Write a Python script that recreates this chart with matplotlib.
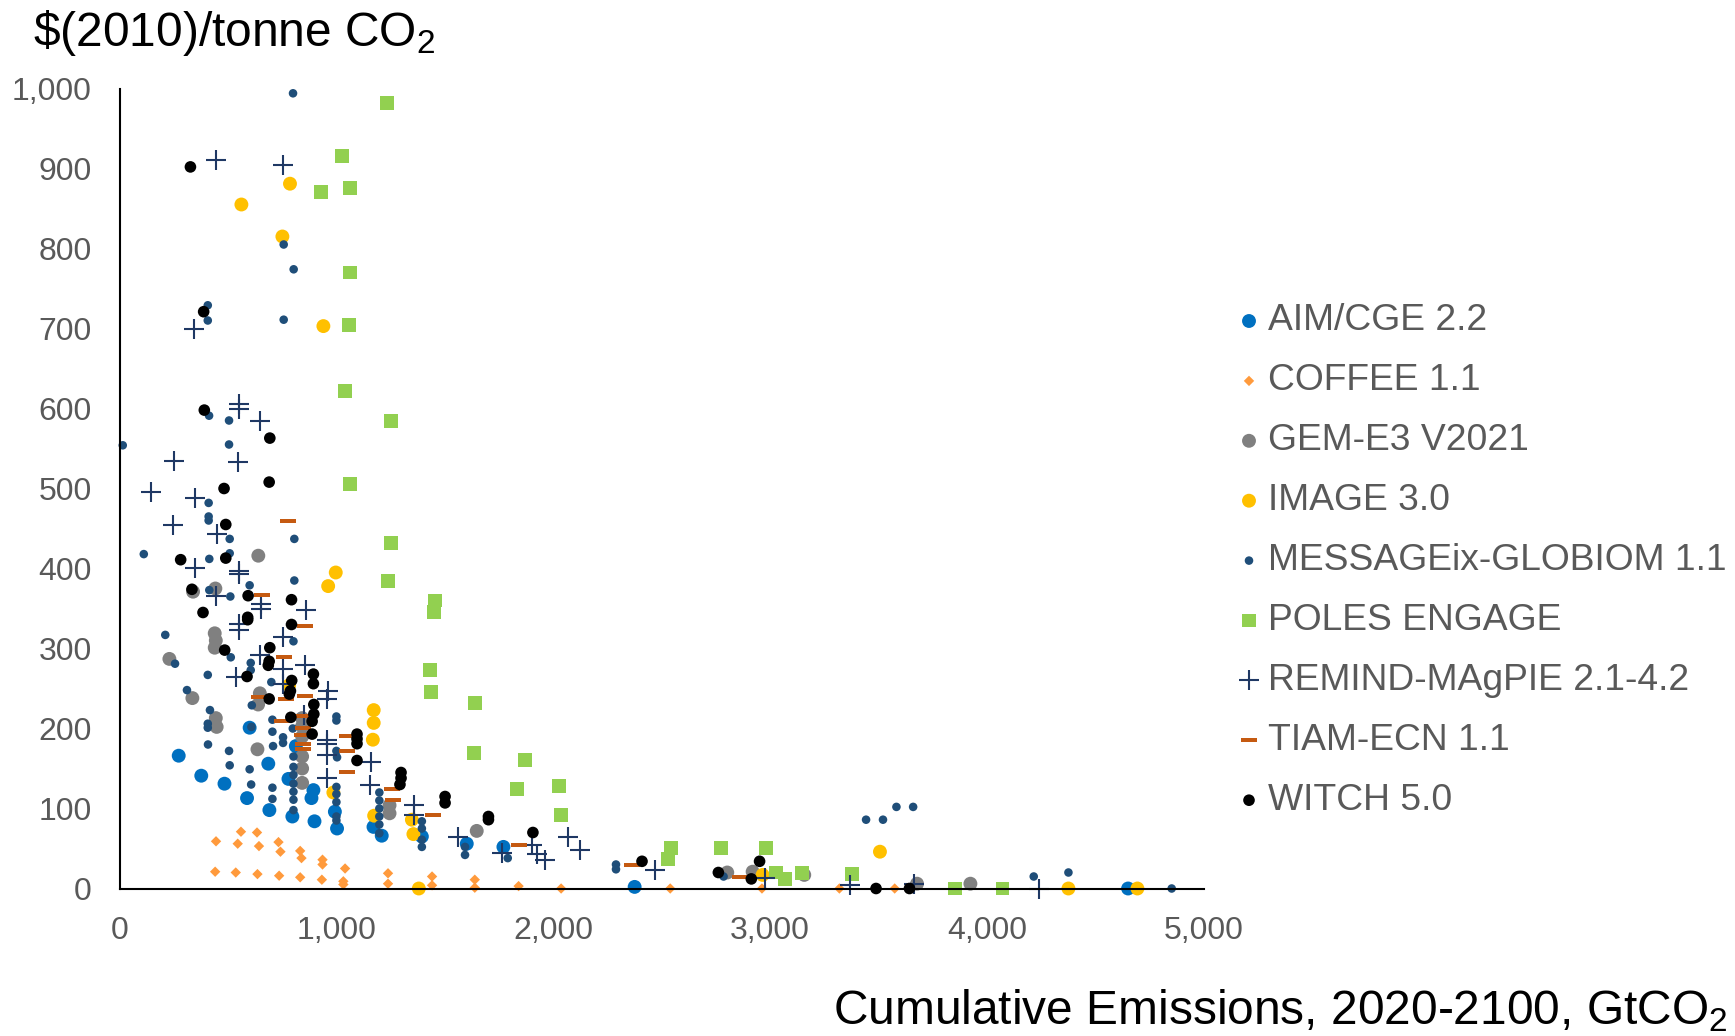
import matplotlib.pyplot as plt

plt.rcParams['font.family'] = ['Liberation Sans', 'DejaVu Sans']
plt.rcParams['mathtext.fontset'] = 'custom'
plt.rcParams['mathtext.rm'] = 'Liberation Sans'
plt.rcParams['mathtext.it'] = 'Liberation Sans'

# Carbon price vs cumulative emissions, one list pair per model
aim_x = [273, 377, 484, 588, 600, 686, 691, 779, 797, 813, 894, 885, 899, 993, 1003,
         1171, 1209, 1394, 1601, 1770, 2375, 4650]
aim_y = [166, 141, 131, 113, 201, 156, 98, 137, 90, 178, 123, 113, 84, 96, 75,
         77, 66, 65, 56, 52, 2, 0]

coffee_x = [445, 560, 634, 545, 643, 733, 742, 833, 839, 936, 936, 1040, 441, 536, 636,
            736, 833, 933, 1032, 1032, 1238, 1238, 1441, 1441, 1638, 1638, 1840, 2036,
            2539, 2962, 3319, 3574]
coffee_y = [59, 71, 70, 56, 53, 58, 46, 47, 38, 36, 30, 25, 21, 20, 18,
            16, 14, 11, 9, 5, 19, 6, 15, 4, 11, 1, 3, 0,
            0, 0, 0, 0]

gem_x = [640, 339, 442, 439, 444, 439, 230, 336, 647, 639, 444, 448, 842, 842, 842,
         842, 842, 842, 636, 1245, 1245, 1647, 2802, 2919, 3157, 3677, 3923]
gem_y = [416, 371, 375, 319, 310, 301, 287, 238, 244, 230, 213, 202, 213, 203, 190,
         165, 150, 132, 174, 104, 94, 72, 20, 21, 17, 6, 6]

image_x = [786, 562, 751, 940, 997, 962, 1172, 1172, 1168, 782, 986, 1174, 1348, 1355,
           1380, 2965, 3506, 4375, 4693]
image_y = [881, 855, 815, 703, 395, 378, 223, 207, 186, 254, 120, 91, 86, 68,
           0, 17, 46, 0, 0]

message_x = [800, 757, 803, 407, 407, 757, 413, 505, 15, 505, 411, 411, 411, 508, 806,
             806, 112, 414, 508, 600, 414, 511, 211, 802, 256, 513, 605, 605, 407, 700,
             311, 610, 417, 407, 407, 705, 1000, 1000, 608, 705, 799, 754, 754, 408, 505,
             708, 802, 802, 802, 802, 802, 802, 802, 1000, 1003, 508, 600, 607, 705, 705,
             1000, 1000, 1000, 1000, 1000, 1198, 1198, 1198, 1198, 1198, 1198, 1394, 1394,
             1394, 1394, 1593, 1593, 1790, 2289, 2289, 2785, 3442, 3520, 3582, 3659, 4215,
             4375, 4851]
message_y = [994, 805, 774, 729, 710, 711, 591, 585, 554, 555, 482, 465, 460, 437, 437,
             385, 418, 412, 419, 379, 373, 365, 317, 309, 281, 289, 282, 273, 267, 258,
             248, 229, 223, 206, 201, 211, 215, 210, 202, 196, 200, 189, 182, 180, 172,
             178, 165, 152, 142, 131, 121, 111, 98, 172, 164, 154, 149, 130, 126, 112,
             127, 118, 108, 90, 85, 120, 110, 100, 90, 80, 69, 84, 75,
             61, 52, 52, 42, 38, 24, 30, 15, 86, 86, 102, 102, 15,
             20, 0]

poles_x = [1232, 1026, 928, 1063, 1063, 1059, 1040, 1251, 1063, 1251, 1237, 1454, 1449,
           1432, 1437, 1638, 1635, 1869, 1832, 2027, 2035, 2542, 2528, 2773, 2982, 3027,
           3067, 3148, 3379, 3850, 4071]
poles_y = [982, 916, 871, 876, 770, 704, 622, 584, 506, 432, 384, 360, 346,
           273, 246, 232, 169, 161, 124, 128, 92, 51, 37, 51, 51, 20,
           12, 19, 18, 0, 0]

remind_x = [445, 753, 345, 551, 551, 650, 250, 547, 144, 350, 245, 451, 348, 550, 550,
            447, 653, 653, 859, 550, 550, 754, 650, 754, 854, 536, 753, 960, 956, 851,
            956, 956, 957, 956, 1160, 1155, 1358, 1358, 1560, 1763, 1900, 1925, 1963,
            2070, 2121, 2467, 2977, 3370, 3661, 4237]
remind_y = [911, 904, 700, 606, 600, 585, 534, 533, 496, 488, 454, 443, 401, 397, 393,
            366, 356, 350, 348, 331, 323, 314, 292, 274, 279, 264, 256, 247, 237, 217,
            186, 181, 167, 138, 158, 129, 104, 92, 65, 45, 55, 43, 36,
            64, 48, 23, 13, 4, 6, 0]

tiam_x = [776, 656, 857, 759, 645, 768, 856, 748, 848, 848, 840, 1049, 1048, 1048, 845,
          845, 1258, 1260, 1445, 1840, 2362, 2862]
tiam_y = [459, 367, 328, 290, 240, 237, 241, 210, 216, 201, 192, 191, 172, 146, 181,
          174, 124, 111, 92, 54, 29, 14]

witch_x = [327, 388, 391, 693, 690, 482, 490, 282, 490, 334, 593, 793, 385, 591, 591,
           793, 485, 693, 690, 686, 894, 588, 894, 794, 788, 783, 690, 896, 896, 888,
           790, 888, 1095, 1095, 1095, 1095, 1298, 1298, 1293, 1501, 1501, 1701, 1701,
           1906, 2409, 2761, 2951, 2913, 3488, 3642]
witch_y = [902, 721, 598, 563, 508, 500, 455, 411, 413, 374, 366, 361, 345, 339, 336,
           330, 298, 301, 284, 279, 268, 265, 256, 260, 247, 243, 237, 230, 218, 209,
           214, 193, 193, 187, 181, 160, 145, 138, 130, 115, 107, 90, 86,
           70, 34, 20, 34, 12, 0, 0]

dash = [(-2, -0.5), (2, -0.5), (2, 0.5), (-2, 0.5)]

series = [
    ('AIM/CGE 2.2', aim_x, aim_y, dict(marker='o', s=100, c='#0070C0', edgecolors='none')),
    ('COFFEE 1.1', coffee_x, coffee_y, dict(marker='D', s=28, c='#FF9A3C', edgecolors='none')),
    ('GEM-E3 V2021', gem_x, gem_y, dict(marker='o', s=100, c='#808080', edgecolors='none')),
    ('IMAGE 3.0', image_x, image_y, dict(marker='o', s=100, c='#FFC000', edgecolors='none')),
    ('MESSAGEix-GLOBIOM 1.1', message_x, message_y, dict(marker='o', s=38, c='#1F4E79', edgecolors='none')),
    ('POLES ENGAGE', poles_x, poles_y, dict(marker='s', s=100, c='#92D050', edgecolors='none')),
    ('REMIND-MAgPIE 2.1-4.2', remind_x, remind_y, dict(marker='+', s=225, c='#1F3864', linewidths=1.5)),
    ('TIAM-ECN 1.1', tiam_x, tiam_y, dict(marker=dash, s=133, c='#C55A11', linewidths=0)),
    ('WITCH 5.0', witch_x, witch_y, dict(marker='o', s=70, c='#000000', edgecolors='none')),
]

W, H = 1735, 1036
fig = plt.figure(figsize=(W / 100, H / 100), dpi=100)
ax = fig.add_axes([119.5 / W, (H - 888.5) / H, (1204 - 119.5) / W, 800 / H])

for name, xs, ys, style in series:
    ax.scatter(xs, ys, clip_on=False, **style)

ax.set_xlim(0, 5000)
ax.set_ylim(0, 1000)
ax.set_xticks(range(0, 5001, 1000))
ax.set_yticks(range(0, 1001, 100))
ax.set_xticklabels([f'{v:,}' for v in range(0, 5001, 1000)])
ax.set_yticklabels([f'{v:,}' for v in range(0, 1001, 100)])
ax.tick_params(axis='both', length=0, labelsize=23, labelcolor='#595959')
ax.tick_params(axis='y', pad=20)
ax.tick_params(axis='x', pad=20)
for side in ['top', 'right']:
    ax.spines[side].set_visible(False)
for side in ['left', 'bottom']:
    ax.spines[side].set_linewidth(1.5)
    ax.spines[side].set_color('black')

# legend drawn in pixel space on an overlay
lax = fig.add_axes([0, 0, 1, 1], facecolor='none')
lax.set_xlim(0, W)
lax.set_ylim(H, 0)
lax.axis('off')
for i, (name, xs, ys, style) in enumerate(series):
    y = 321 + i * 59.9
    lax.scatter([1249], [y], **style)
    lax.text(1268, y, name, fontsize=26.8, color='#595959', va='center', ha='left')

fig.text(33 / W, 1 - 33 / H, r'\$(2010)/tonne CO$_2$', fontsize=34.5,
         ha='left', va='center')
fig.text(1728 / W, 1 - 1011 / H, r'Cumulative Emissions, 2020-2100, GtCO$_2$',
         fontsize=34.5, ha='right', va='center')

fig.savefig('out.png', dpi=100)
